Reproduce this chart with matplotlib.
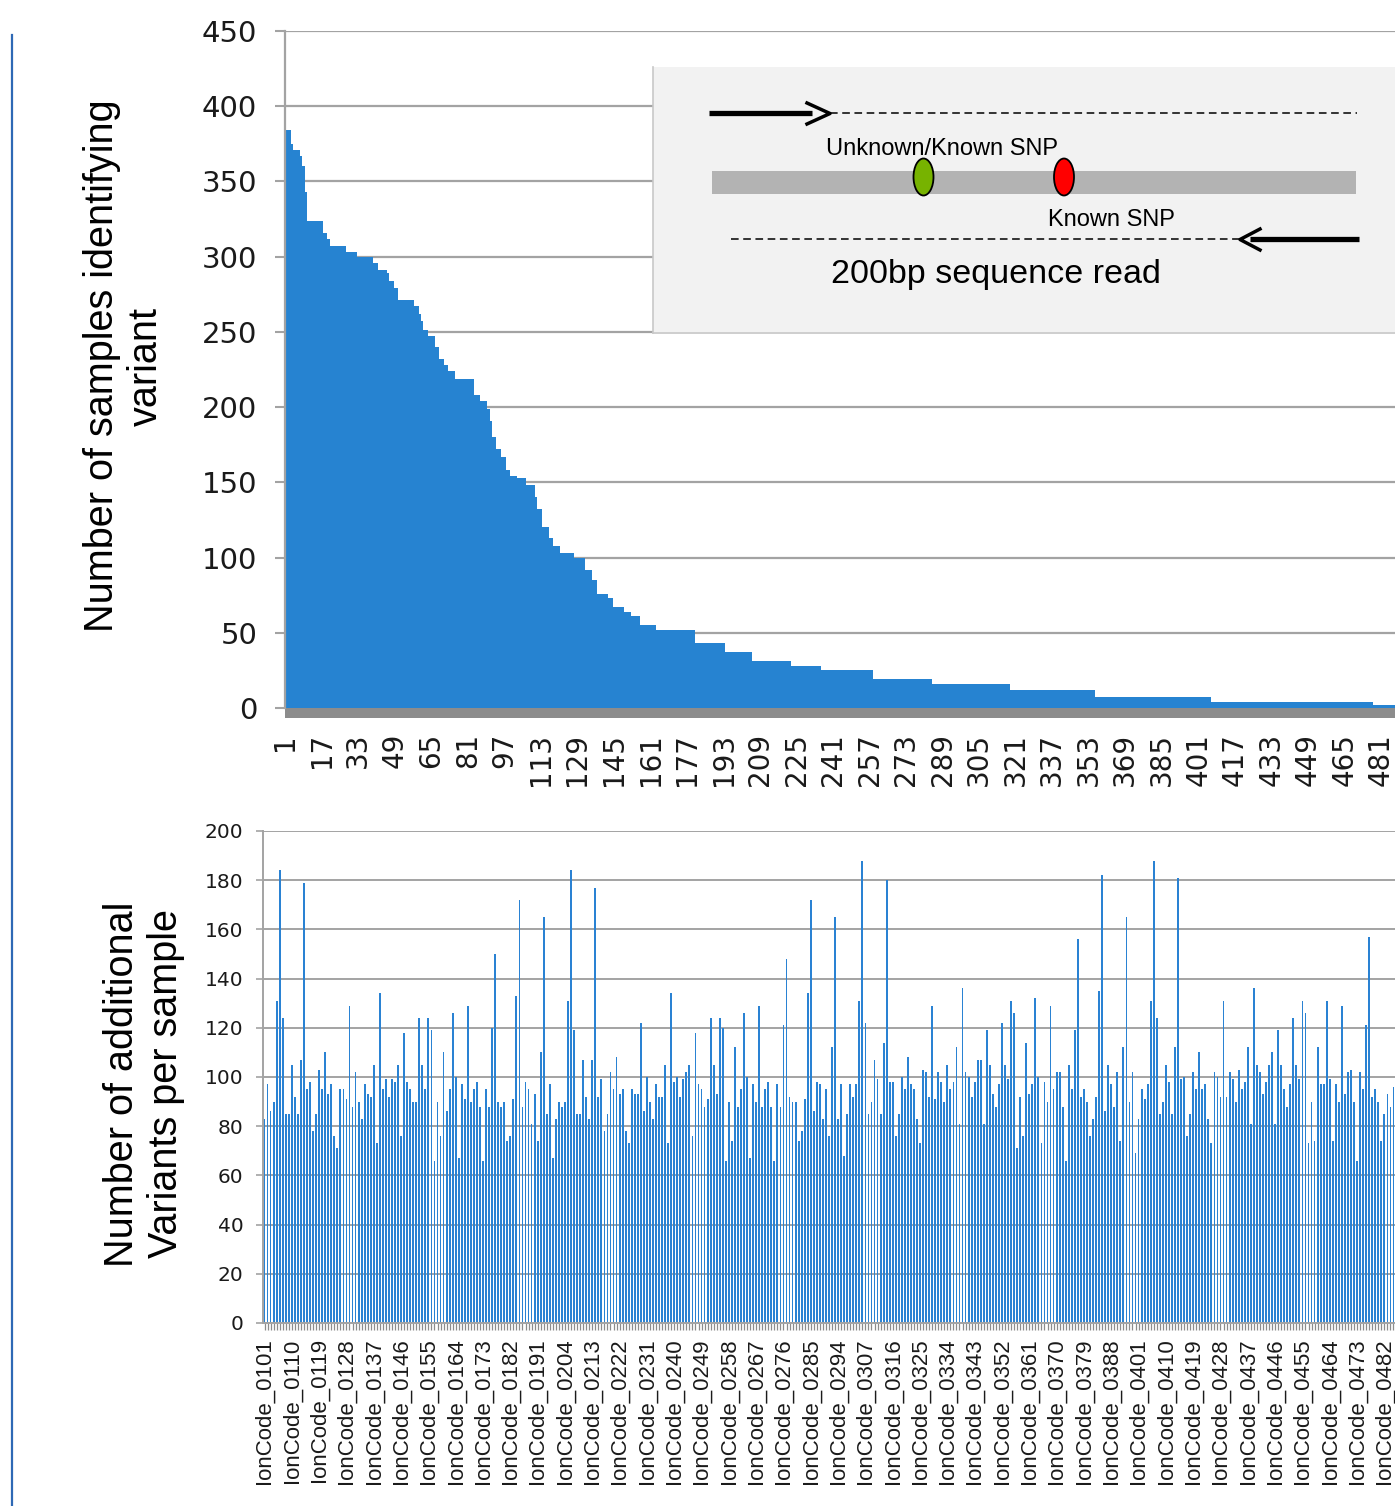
import numpy as np
import matplotlib.pyplot as plt
from matplotlib.patches import Rectangle, Ellipse
from matplotlib.lines import Line2D

plt.rcParams['font.family'] = ['Liberation Sans', 'DejaVu Sans']

rank_levels = [384, 375, 371, 367, 360, 343, 324, 316, 312, 307,
               303, 300, 296, 291, 289, 284, 279, 271, 267, 262,
               257, 251, 247, 240, 232, 228, 224, 219, 208, 204,
               199, 191, 180, 172, 167, 158, 154, 153, 148, 140,
               132, 120, 113, 108, 103, 100, 92, 85, 76, 73,
               67, 64, 61, 55, 52, 43, 37, 31, 28, 25,
               19, 16, 12, 7, 4, 2]
rank_counts = [3, 1, 3, 1, 1, 1, 7, 2, 1, 7,
               5, 7, 2, 4, 1, 2, 2, 7, 2, 1,
               1, 2, 3, 2, 2, 2, 3, 8, 3, 3,
               1, 1, 2, 2, 2, 2, 3, 4, 4, 1,
               2, 3, 2, 3, 6, 5, 3, 2, 5, 2,
               5, 3, 4, 7, 17, 13, 12, 17, 13, 23,
               26, 34, 37, 51, 71, 12]
rank_ticks = list(range(1, 482, 16))

# ---- bottom chart: additional variants per sample
variant_counts = [
    # plate 01
    83, 97, 86, 90, 131, 184, 124, 85, 85, 105,
    92, 85, 107, 179, 95, 98, 78, 85, 103, 95,
    110, 93, 97, 76, 71, 95, 95, 91, 129, 88,
    102, 90, 83, 97, 93, 92, 105, 73, 134, 95,
    99, 92, 99, 98, 105, 76, 118, 98, 95, 90,
    90, 124, 105, 95, 124, 119, 66, 90, 76, 110,
    86, 95, 126, 100, 67, 97, 91, 129, 90, 95,
    98, 88, 66, 95, 88, 120, 150, 90, 88, 90,
    74, 76, 91, 133, 172, 88, 98, 95, 81, 93,
    74, 110, 165,
    # plate 02
    85, 97, 67, 83, 90, 88, 90, 131, 184, 119,
    85, 85, 107, 92, 83, 107, 177, 92, 99, 78,
    85, 102, 95, 108, 93, 95, 78, 73, 95, 93,
    93, 122, 86, 100, 90, 83, 97, 92, 92, 105,
    73, 134, 98, 100, 92, 99, 102, 105, 76, 118,
    97, 95, 88, 91, 124, 105, 93, 124, 120, 66,
    90, 74, 112, 88, 95, 126, 100, 67, 97, 90,
    129, 88, 95, 98, 88, 66, 97, 88, 121, 148,
    92, 90, 90, 74, 78, 91, 134, 172, 86, 98,
    97, 83,
    # plate 03
    95, 76, 112, 165, 83, 97, 68, 85, 97, 92,
    97, 131, 188, 122, 85, 90, 107, 99, 85, 114,
    180, 98, 98, 76, 85, 100, 95, 108, 97, 95,
    83, 73, 103, 102, 92, 129, 91, 102, 98, 90,
    105, 95, 98, 112, 81, 136, 102, 100, 92, 98,
    107, 107, 81, 119, 105, 93, 88, 97, 122, 105,
    99, 131, 126, 71, 92, 76, 114, 93, 97, 132,
    100, 73, 98, 90, 129, 95, 102, 102, 88, 66,
    105, 95, 119, 156, 92, 95, 90, 76, 83, 92,
    135, 182, 86,
    # plate 04
    105, 97, 88, 102, 74, 112, 165, 90, 102, 69,
    83, 95, 91, 97, 131, 188, 124, 85, 90, 105,
    98, 85, 112, 181, 99, 100, 76, 85, 102, 95,
    110, 95, 97, 83, 73, 102, 100, 92, 131, 92,
    102, 99, 90, 103, 95, 98, 112, 81, 136, 105,
    102, 93, 98, 105, 110, 81, 119, 105, 95, 88,
    97, 124, 105, 99, 131, 126, 73, 90, 74, 112,
    97, 97, 131, 99, 74, 97, 90, 129, 93, 102,
    103, 90, 66, 102, 95, 121, 157, 92, 95, 90,
    74, 85, 93, 88, 96,
]
sample_ids = [f'IonCode_{p:02d}{w:02d}' for p in range(1, 5) for w in range(1, 97)]
sample_ids = sample_ids[:len(variant_counts)]

W, H = 1395, 1506
fig = plt.figure(figsize=(W / 100, H / 100), dpi=100)


def px_axes(x0, y0, x1, y1):
    return fig.add_axes([x0 / W, 1 - y1 / H, (x1 - x0) / W, (y1 - y0) / H])


GRID = '#a3a3a3'

# ---------------- top chart
ax1 = px_axes(285, 31, 1395, 708)
rank_values = np.repeat(rank_levels, rank_counts)
ranks = np.arange(1, len(rank_values) + 1)
ax1.bar(ranks, rank_values, width=1.0, color='#2683d1', linewidth=0)
ax1.set_xlim(0.9, 0.9 + 1110 / 2.283)
ax1.set_ylim(0, 450)
ax1.set_yticks(range(0, 451, 50))
ax1.yaxis.grid(True, color=GRID, lw=1.6)
ax1.set_axisbelow(True)
for s in ['top', 'right', 'bottom']:
    ax1.spines[s].set_visible(False)
ax1.spines['left'].set_color(GRID)
ax1.spines['left'].set_linewidth(1.6)
ax1.tick_params(axis='y', length=7, width=1.5, color=GRID, labelsize=21,
                pad=13, labelcolor='#1a1a1a', labelfontfamily='DejaVu Sans')
ax1.set_xticks(rank_ticks)
ax1.set_xticklabels([str(r) for r in rank_ticks], rotation=90, va='top', ha='center')
ax1.tick_params(axis='x', length=0, labelsize=20, pad=18,
                labelcolor='#1a1a1a', labelfontfamily='DejaVu Sans')
# grey floor under the bars
ax1.add_patch(Rectangle((0, -10 / 677), 1, 10 / 677, transform=ax1.transAxes,
                        clip_on=False, color='#8c8c8c', lw=0))

# ---------------- inset diagram
axi = px_axes(653, 67, 1395, 333)
axi.set_xlim(653, 1395)
axi.set_ylim(333, 67)
axi.set_facecolor('#f2f2f2')
axi.set_xticks([])
axi.set_yticks([])
for s in ['top', 'right']:
    axi.spines[s].set_visible(False)
for s in ['left', 'bottom']:
    axi.spines[s].set_color('#c8c8c8')
    axi.spines[s].set_linewidth(1.2)

axi.plot([709, 812], [113, 113], color='black', lw=3.8, solid_capstyle='butt')
axi.plot([807, 830, 807], [103, 113.5, 124], color='black', lw=2.5)
axi.plot([830, 1357], [113, 113], color='black', lw=1.1, ls=(0, (5, 3)))
axi.add_patch(Rectangle((712, 171), 644, 23, color='#b3b3b3', lw=0))
axi.add_patch(Ellipse((923.5, 177), 20, 37, facecolor='#77b300',
                      edgecolor='black', lw=1.3))
axi.add_patch(Ellipse((1064, 177), 20, 37, facecolor='#ff0000',
                      edgecolor='black', lw=1.3))
axi.text(942, 149, 'Unknown/Known SNP', fontsize=17, ha='center', va='center')
axi.text(1111, 220, 'Known SNP', fontsize=17, ha='center', va='center')
axi.plot([731, 1240], [239, 239], color='black', lw=1.1, ls=(0, (5, 3)))
axi.plot([1260, 1240, 1260], [229, 239.5, 250], color='black', lw=2.5)
axi.plot([1250, 1359], [239, 239], color='black', lw=3.8, solid_capstyle='butt')
axi.text(996, 274, '200bp sequence read', fontsize=24.5, ha='center', va='center')

# ---------------- bottom chart
ax2 = px_axes(263, 831, 1395, 1323)
idx = np.arange(len(variant_counts))
ax2.bar(idx, variant_counts, width=0.6, color='#2a82d3', linewidth=0)
ax2.set_xlim(-0.5, 372.5)
ax2.set_ylim(0, 200)
ax2.set_yticks(range(0, 201, 20))
ax2.yaxis.grid(True, color=GRID, lw=1.4)
ax2.set_axisbelow(True)
for s in ['top', 'right']:
    ax2.spines[s].set_visible(False)
for s in ['left', 'bottom']:
    ax2.spines[s].set_color(GRID)
    ax2.spines[s].set_linewidth(1.4)
ax2.tick_params(axis='y', length=5, width=1.2, color=GRID, labelsize=14.5,
                pad=9, labelcolor='#1a1a1a', labelfontfamily='DejaVu Sans')
ax2.set_xticks(idx)
ax2.set_xticklabels([sample_ids[i] if i % 9 == 0 else '' for i in idx],
                    rotation=90, va='top', ha='center')
ax2.tick_params(axis='x', length=5, width=0.9, color='#8c8c8c', labelsize=16,
                pad=6, labelcolor='#1a1a1a')

# ---------------- axis titles and left rule
fig.text(124 / W, 1 - 366 / H, 'Number of samples identifying\nvariant',
         rotation=90, ha='center', va='center', fontsize=28.5, multialignment='center')
fig.text(144 / W, 1 - 1084 / H, 'Number of additional\nVariants per sample',
         rotation=90, ha='center', va='center', fontsize=28.5, multialignment='center')
fig.add_artist(Line2D([12 / W, 12 / W], [0, 1 - 35 / H], color='#2e69b5', lw=1.6))

fig.savefig('out.png', dpi=100)
